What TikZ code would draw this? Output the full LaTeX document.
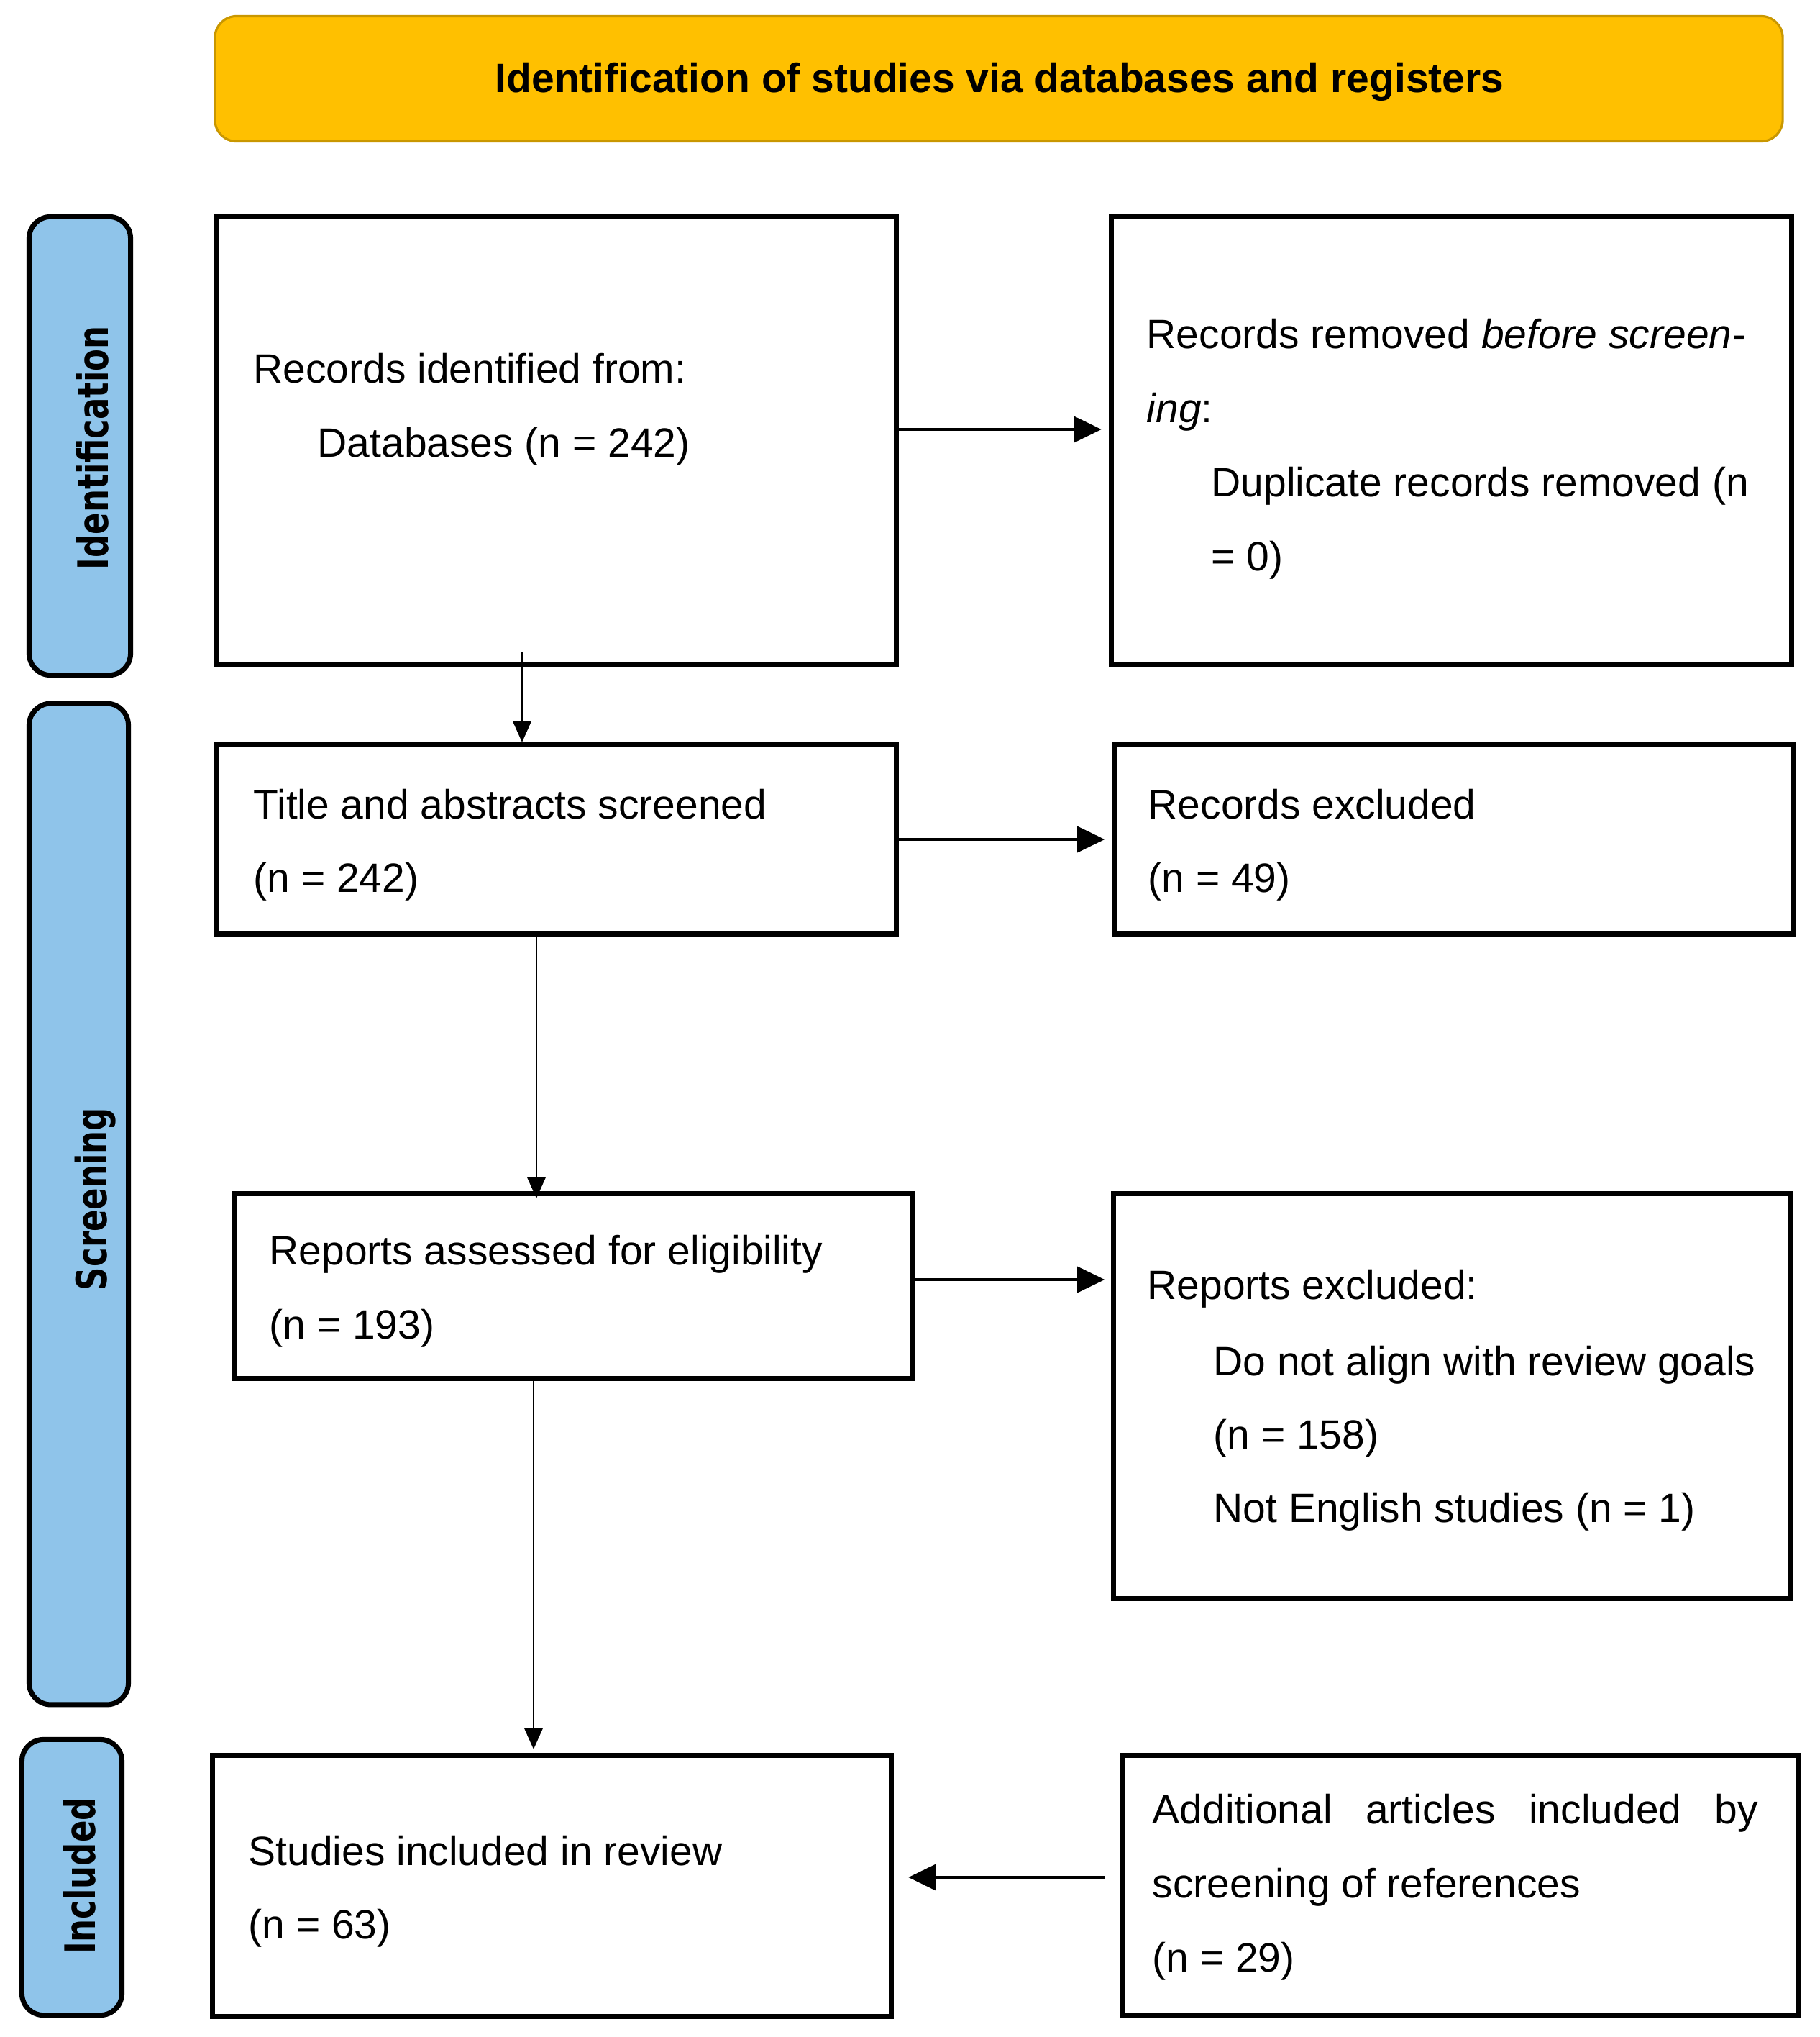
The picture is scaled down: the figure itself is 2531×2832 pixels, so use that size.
\documentclass[tikz,border=0pt]{standalone}
\usepackage{fontspec}
\setmainfont{Liberation Sans}
\newfontfamily\sidefont{DejaVu Sans}
\usetikzlibrary{arrows.meta,calc}
\definecolor{banfill}{HTML}{FFC000}
\definecolor{banline}{HTML}{C99700}
\definecolor{sidefill}{HTML}{8FC4EA}
\begin{document}
\begin{tikzpicture}[x=0.01cm,y=-0.01cm,
  pbox/.style={draw=black,line width=2pt,inner sep=0pt,fill=white},
  sidebox/.style={draw=black,line width=2pt,fill=sidefill,rounded corners=0.3cm,inner sep=0pt},
  banner/.style={draw=banline,line width=0.9pt,fill=banfill,rounded corners=0.3cm,inner sep=0pt,
     font=\fontsize{16.2pt}{19pt}\selectfont\bfseries},
  sidelbl/.style={anchor=base,rotate=90,inner sep=0pt,font=\fontsize{12.8pt}{15pt}\selectfont\sidefont\bfseries},
  txt/.style={anchor=base west,inner sep=0pt,font=\fontsize{16.2pt}{19pt}\selectfont},
  harrow/.style={line width=1.1pt,-{Triangle[length=10.8pt,width=10.2pt]}},
  varrow/.style={line width=0.75pt,-{Triangle[length=8.5pt,width=7.4pt]}}]
\useasboundingbox[fill=white] (0,0) rectangle (2531,2832);

% banner
\node[banner,minimum width=21.79cm,minimum height=1.74cm] (ban) at (1389,109.5) {};
\node[anchor=base,inner sep=0pt,font=\fontsize{16.2pt}{19pt}\selectfont\bfseries] (bantxt) at (1390,128)
  {Identification of studies via databases and registers};

% side boxes
\node[sidebox,minimum width=1.41cm,minimum height=6.37cm] (s1) at (111,620) {};
\node[sidebox,minimum width=1.38cm,minimum height=13.91cm] (s2) at (109.5,1674) {};
\node[sidebox,minimum width=1.39cm,minimum height=3.83cm] (s3) at (100,2610) {};
\node[sidelbl] (l1) at (150,623) {\scalebox{1}[1.3]{Identification}};
\node[sidelbl] (l2) at (148,1667) {\scalebox{1}[1.3]{Screening}};
\node[sidelbl] (l3) at (132,2608) {\scalebox{1}[1.3]{Included}};

% main boxes
\node[pbox,minimum width=9.45cm,minimum height=6.22cm] (b1) at (774,612.5) {};
\node[pbox,minimum width=9.46cm,minimum height=6.22cm] (b2) at (2018.5,612.5) {};
\node[pbox,minimum width=9.45cm,minimum height=2.63cm] (b3) at (774,1167) {};
\node[pbox,minimum width=9.44cm,minimum height=2.63cm] (b4) at (2022.5,1167) {};
\node[pbox,minimum width=9.42cm,minimum height=2.57cm] (b5) at (797.5,1788) {};
\node[pbox,minimum width=9.42cm,minimum height=5.63cm] (b6) at (2019.5,1941) {};
\node[pbox,minimum width=9.44cm,minimum height=3.63cm] (b7) at (767.5,2622) {};
\node[pbox,minimum width=9.41cm,minimum height=3.61cm] (b8) at (2031,2621) {};

% texts
\node[txt] (t1a) at (352,532) {Records identified from:};
\node[txt] (t1b) at (441,635) {Databases (n = 242)};
\node[txt] (t2a) at (1594,484) {Records removed \textit{before screen-}};
\node[txt] (t2b) at (1594,587) {\textit{ing}:};
\node[txt] (t2c) at (1684,690) {Duplicate records removed (n};
\node[txt] (t2d) at (1684,793) {= 0)};
\node[txt] (t3a) at (352,1138) {Title and abstracts screened};
\node[txt] (t3b) at (352,1240) {(n = 242)};
\node[txt] (t4a) at (1596,1138) {Records excluded};
\node[txt] (t4b) at (1596,1240) {(n = 49)};
\node[txt] (t5a) at (374,1758) {Reports assessed for eligibility};
\node[txt] (t5b) at (374,1861) {(n = 193)};
\node[txt] (t6a) at (1595,1806) {Reports excluded:};
\node[txt] (t6b) at (1687,1912) {Do not align with review goals};
\node[txt] (t6c) at (1687,2014) {(n = 158)};
\node[txt] (t6d) at (1687,2116) {Not English studies (n = 1)};
\node[txt] (t7a) at (345,2593) {Studies included in review};
\node[txt] (t7b) at (345,2695) {(n = 63)};
\node[txt] (t8a) at (1602,2535) {\hbox to 8.42cm{Additional\hfill articles\hfill included\hfill by}};
\node[txt] (t8b) at (1602,2638) {screening of references};
\node[txt] (t8c) at (1602,2741) {(n = 29)};

% connectors
\coordinate (a1s) at ($(b1.east)+(0,-15.5)$);
\draw[harrow,shorten >=0.1cm] (a1s) -- (a1s -| b2.west);
\coordinate (a2s) at ($(b1.south)+(-48,-20.5)$);
\draw[varrow] (a2s) -- (a2s |- b3.north);
\draw[harrow,shorten >=0.105cm] (b3.east) -- (b4.west);
\coordinate (a4s) at ($(b3.south)+(-28,0)$);
\draw[varrow,shorten >=-0.1cm] (a4s) -- (a4s |- b5.north);
\coordinate (a5s) at ($(b5.east)+(0,-9)$);
\draw[harrow,shorten >=0.085cm] (a5s) -- (a5s -| b6.west);
\coordinate (a6s) at ($(b5.south)+(-55.5,0)$);
\draw[varrow,shorten >=0.05cm] (a6s) -- (a6s |- b7.north);
\coordinate (a7s) at ($(b8.west)+(0,-11)$);
\draw[harrow,shorten <=0.2cm,shorten >=0.2cm] (a7s) -- (a7s -| b7.east);
\end{tikzpicture}
\end{document}
